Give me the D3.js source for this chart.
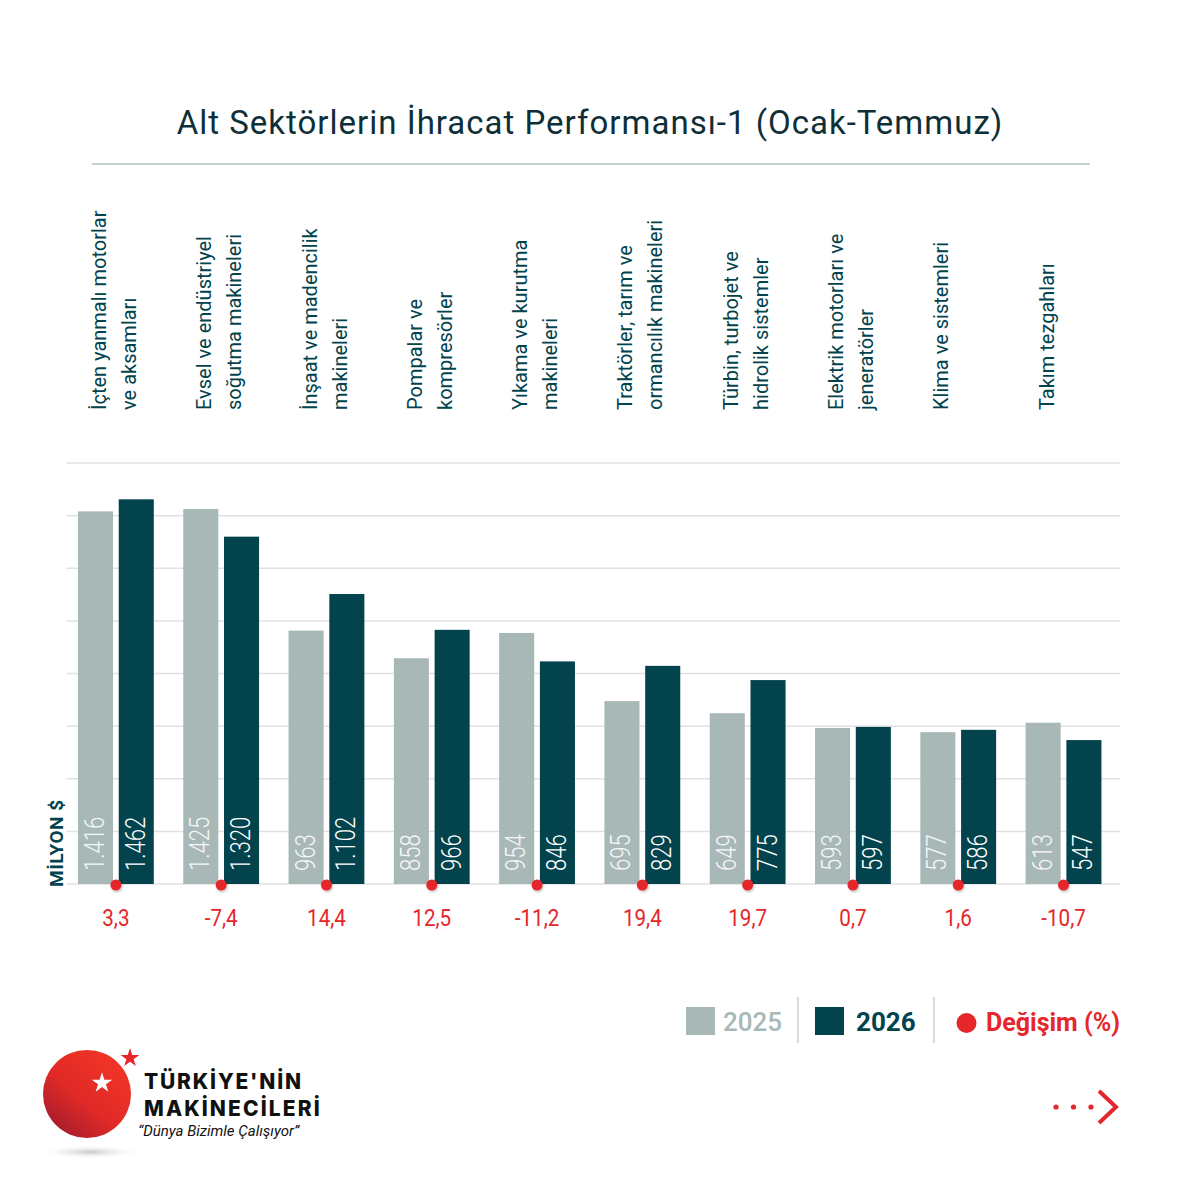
<!DOCTYPE html>
<html>
<head>
<meta charset="utf-8">
<script src="https://cdn.jsdelivr.net/npm/d3@7"></script>
<style>
  body { margin: 0; background: #fff; }
  svg { display: block; font-family: Roboto, "Open Sans", sans-serif; }
</style>
</head>
<body>
<div id="chart"></div>
<script>
// sector names, split into the two lines used on the picture
var categories = [
	["İçten yanmalı motorlar", "ve aksamları"],
	["Evsel ve endüstriyel", "soğutma makineleri"],
	["İnşaat ve madencilik", "makineleri"],
	["Pompalar ve", "kompresörler"],
	["Yıkama ve kurutma", "makineleri"],
	["Traktörler,  tarım ve", "ormancılık makineleri"],
	["Türbin, turbojet ve", "hidrolik sistemler"],
	["Elektrik motorları ve", "jeneratörler"],
	["Klima ve sistemleri"],
	["Takım tezgahları"]
];
var years = ["2025", "2026"];
var values2025 = [1416, 1425, 963, 858, 954, 695, 649, 593, 577, 613];
var values2026 = [1462, 1320, 1102, 966, 846, 829, 775, 597, 586, 547];
var changes = [3.3, -7.4, 14.4, 12.5, -11.2, 19.4, 19.7, 0.7, 1.6, -10.7];
var yTicks = [0, 200, 400, 600, 800, 1000, 1200, 1400, 1600];

var gray = "#a8b8b7", teal = "#02434d", red = "#e5262b", ink = "#0f2f38";

var tr = d3.formatLocale({decimal: ",", thousands: ".", grouping: [3], currency: ["", "$"], minus: "-"});
var fmtVal = tr.format(",d");
var fmtPct = tr.format(".1f");

var width = 1181, height = 1181;
var svg = d3.select("#chart").append("svg")
	.attr("width", width)
	.attr("height", height);

// title
svg.append("text")
	.attr("x", 590)
	.attr("y", 134)
	.attr("text-anchor", "middle")
	.attr("fill", ink)
	.attr("font-size", 33)
	.attr("letter-spacing", 1)
	.text("Alt Sektörlerin İhracat Performansı-1 (Ocak-Temmuz)");
svg.append("line")
	.attr("x1", 92).attr("x2", 1090)
	.attr("y1", 164).attr("y2", 164)
	.attr("stroke", "#8ea2a5")
	.attr("stroke-width", 1);

var ids = categories.map(function(c, i){ return i; });

var x0 = d3.scaleBand()
	.domain(ids)
	.range([66.7, 1112.7])
	.paddingInner(0.28)
	.paddingOuter(0.107);
var x1 = d3.scaleBand()
	.domain(years)
	.range([0, x0.bandwidth()])
	.paddingInner(0.14);
var y = d3.scaleLinear()
	.domain([0, 1600])
	.range([884, 463]);

// grid
svg.append("g")
	.selectAll("line")
	.data(yTicks)
	.enter().append("line")
	.attr("x1", 66.7).attr("x2", 1120)
	.attr("y1", function(d){ return y(d); })
	.attr("y2", function(d){ return y(d); })
	.attr("stroke", "#e1e1e1")
	.attr("stroke-width", 1.5);

// y label
svg.append("text")
	.attr("transform", "translate(63," + (y(0) + 3) + ") rotate(-90)")
	.attr("fill", teal)
	.attr("font-size", 19)
	.attr("font-weight", 700)
	.attr("letter-spacing", 0.5)
	.text("MİLYON $");

// category labels
var cat = svg.append("g").selectAll("text")
	.data(ids)
	.enter().append("text")
	.attr("fill", teal)
	.attr("font-size", 20)
	.attr("transform", function(i){ return "translate(" + (x0(i) + 28) + ",410) rotate(-90)"; });
cat.selectAll("tspan")
	.data(function(i){ return categories[i]; })
	.enter().append("tspan")
	.attr("x", 0)
	.attr("y", function(d, k){ return k * 30; })
	.text(function(d){ return d; });

// bars
var rows = ids.map(function(i){
	return [{year: "2025", value: values2025[i]}, {year: "2026", value: values2026[i]}];
});
var groups = svg.append("g").selectAll("g")
	.data(ids)
	.enter().append("g")
	.attr("transform", function(i){ return "translate(" + x0(i) + ",0)"; });

groups.selectAll("rect")
	.data(function(i){ return rows[i]; })
	.enter().append("rect")
	.attr("x", function(d){ return x1(d.year); })
	.attr("y", function(d){ return y(d.value); })
	.attr("width", x1.bandwidth())
	.attr("height", function(d){ return y(0) - y(d.value); })
	.attr("fill", function(d){ return d.year == "2025" ? gray : teal; });

// value labels, squeezed along the text to mimic the narrow face
groups.selectAll("text.val")
	.data(function(i){ return rows[i]; })
	.enter().append("text")
	.attr("class", "val")
	.attr("transform", function(d){
		return "translate(" + (x1(d.year) + x1.bandwidth() / 2 + 8.5) + "," + (y(0) - 13) + ") rotate(-90) scale(0.82,1)";
	})
	.attr("fill", function(d){ return d.year == "2025" ? "#f4f7f7" : "#fff"; })
	.attr("font-size", 27)
	.attr("font-weight", 300)
	.text(function(d){ return fmtVal(d.value); });

// change dots and labels
var dotX = function(i){ return x0(i) + (x1("2025") + x1.bandwidth() + x1("2026")) / 2; };
var defs = svg.append("defs");
var sh = defs.append("filter").attr("id", "sh").attr("x", "-50%").attr("y", "-50%").attr("width", "200%").attr("height", "200%");
sh.append("feDropShadow").attr("dx", 1).attr("dy", 1.5).attr("stdDeviation", 1.2).attr("flood-color", "#000").attr("flood-opacity", 0.25);

svg.append("g").selectAll("circle")
	.data(ids)
	.enter().append("circle")
	.attr("cx", dotX)
	.attr("cy", y(0) + 1)
	.attr("r", 5.5)
	.attr("fill", red)
	.attr("filter", "url(#sh)");

svg.append("g").selectAll("text")
	.data(ids)
	.enter().append("text")
	.attr("transform", function(i){ return "translate(" + dotX(i) + ",926) scale(0.86,1)"; })
	.attr("text-anchor", "middle")
	.attr("fill", red)
	.attr("font-size", 24)
	.text(function(i){ return fmtPct(changes[i]); });

// legend
var lg = svg.append("g");
lg.append("rect").attr("x", 686).attr("y", 1007).attr("width", 29).attr("height", 28).attr("fill", gray);
lg.append("text").attr("x", 723).attr("y", 1031).attr("font-size", 26).attr("font-weight", 500).attr("fill", gray).text(years[0]);
lg.append("line").attr("x1", 798).attr("x2", 798).attr("y1", 997).attr("y2", 1043).attr("stroke", "#c5d0d0").attr("stroke-width", 1.5);
lg.append("rect").attr("x", 815).attr("y", 1007).attr("width", 29).attr("height", 28).attr("fill", teal);
lg.append("text").attr("x", 856).attr("y", 1031).attr("font-size", 26).attr("font-weight", 700).attr("fill", teal).text(years[1]);
lg.append("line").attr("x1", 934).attr("x2", 934).attr("y1", 997).attr("y2", 1043).attr("stroke", "#c5d0d0").attr("stroke-width", 1.5);
lg.append("circle").attr("cx", 966.5).attr("cy", 1023).attr("r", 10).attr("fill", red);
lg.append("text").attr("x", 986).attr("y", 1031).attr("font-size", 25).attr("font-weight", 700).attr("fill", red).text("Değişim (%)");

// next arrow
var ar = svg.append("g");
[1056, 1073.5, 1091].forEach(function(cx){
	ar.append("circle").attr("cx", cx).attr("cy", 1107).attr("r", 2.6).attr("fill", red);
});
ar.append("path")
	.attr("d", "M1099,1091 L1116,1107 L1099,1123")
	.attr("fill", "none")
	.attr("stroke", red)
	.attr("stroke-width", 4);

// logo
var lgr = defs.append("linearGradient").attr("id", "ball").attr("x1", "80%").attr("y1", "15%").attr("x2", "15%").attr("y2", "90%");
lgr.append("stop").attr("offset", "0").attr("stop-color", "#f03326");
lgr.append("stop").attr("offset", "0.55").attr("stop-color", "#e02a27");
lgr.append("stop").attr("offset", "1").attr("stop-color", "#a91d2b");
var shg = defs.append("radialGradient").attr("id", "shadow");
shg.append("stop").attr("offset", "0").attr("stop-color", "#c8c8c8");
shg.append("stop").attr("offset", "1").attr("stop-color", "#fff").attr("stop-opacity", 0);

var logo = svg.append("g");
logo.append("ellipse").attr("cx", 90).attr("cy", 1152).attr("rx", 52).attr("ry", 7).attr("fill", "url(#shadow)");
logo.append("circle").attr("cx", 87).attr("cy", 1094).attr("r", 44).attr("fill", "url(#ball)");
logo.append("path").attr("d", d3.symbol(d3.symbolStar, 130)()).attr("transform", "translate(102,1083)").attr("fill", "#fff");
logo.append("path").attr("d", d3.symbol(d3.symbolStar, 110)()).attr("transform", "translate(130,1058)").attr("fill", "#e8262a");
logo.append("text").attr("x", 144).attr("y", 1089).attr("font-family", "Inter, sans-serif").attr("font-weight", 800).attr("font-size", 21).attr("letter-spacing", 1.8).attr("fill", "#111").text("TÜRKİYE'NİN");
logo.append("text").attr("x", 144).attr("y", 1116).attr("font-family", "Inter, sans-serif").attr("font-weight", 800).attr("font-size", 21).attr("letter-spacing", 2.1).attr("fill", "#111").text("MAKİNECİLERİ");
logo.append("text").attr("x", 138).attr("y", 1136).attr("font-style", "italic").attr("font-size", 15).attr("fill", "#111").text("“Dünya Bizimle Çalışıyor”");
</script>
</body>
</html>
